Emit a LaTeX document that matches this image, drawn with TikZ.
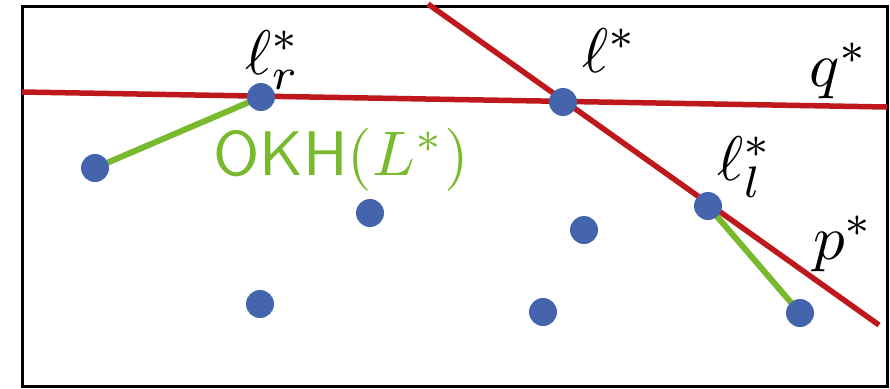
\documentclass[tikz,border=0pt]{standalone}
\definecolor{dotblue}{RGB}{68,101,171}
\definecolor{lred}{RGB}{190,24,28}
\definecolor{hgreen}{RGB}{120,185,45}
\begin{document}
\begin{tikzpicture}[x=1pt,y=-1pt,
  dot/.style={circle,fill=dotblue,minimum size=28pt,inner sep=0pt},
  redline/.style={lred,line width=5.5pt},
  greenline/.style={hgreen,line width=6pt},
  lab/.style={scale=6.3,inner sep=0pt,anchor=base west}]
\useasboundingbox (0,0) rectangle (890,388);
\draw[line width=3pt] (22,6) rectangle (887,386);
% red lines
\coordinate (q1) at (22,92);
\coordinate (q2) at (887,107);
\coordinate (p1) at (428,4);
\coordinate (p2) at (879,325);
\draw[redline] (q1) -- (q2);
\draw[redline] (p1) -- (p2);
% green segments
\coordinate (Ac) at (95,168);
\coordinate (Fc) at (800,313);
\coordinate (lrc) at (261,97);
\coordinate (llc) at (708,206);
\draw[greenline] (Ac) -- (lrc);
\draw[greenline] (llc) -- (Fc);
% dots
\node[dot] (A) at (Ac) {};
\node[dot] (lr) at (lrc) {};
\node[dot] (B) at (370,213) {};
\node[dot] (C) at (260,304) {};
\node[dot] (l) at (563,102) {};
\node[dot] (D) at (584,230) {};
\node[dot] (E) at (543,312) {};
\node[dot] (ll) at (llc) {};
\node[dot] (F) at (Fc) {};
% labels
\node[lab] (tlr) at (244,74) {$\ell_r^*$};
\node[lab] (tl) at (581,72) {$\ell^*$};
\node[lab] (tq) at (808,86) {$q^*$};
\node[lab] (tll) at (716,180) {$\ell_l^*$};
\node[lab] (tp) at (812,259) {$p^*$};
\node[lab,text=hgreen] (okh) at (212,175) {\textsf{OKH}$(L^*)$};
\end{tikzpicture}
\end{document}
